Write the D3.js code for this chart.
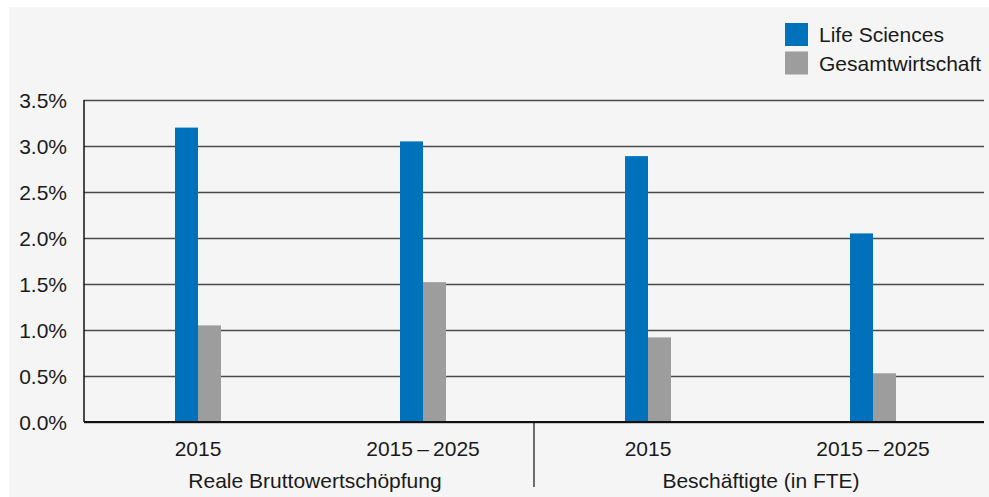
<!DOCTYPE html>
<html>
<head>
<meta charset="utf-8">
<script src="https://cdn.jsdelivr.net/npm/d3@7"></script>
<style>
  html, body { margin: 0; padding: 0; background: #ffffff; }
  svg { display: block; }
  text { font-family: "Liberation Sans", Arial, Helvetica, sans-serif; fill: #1a1a1a; }
</style>
</head>
<body>
<svg id="chart" width="989" height="497"></svg>
<script>
const categories = ["2015", "2015\u2009\u2013\u20092025", "2015", "2015\u2009\u2013\u20092025"];
const groups = ["Reale Bruttowertschöpfung", "Beschäftigte (in FTE)"];
const seriesNames = ["Life Sciences", "Gesamtwirtschaft"];
const lifeSciences = [3.2, 3.05, 2.89, 2.05];
const gesamtwirtschaft = [1.05, 1.52, 0.92, 0.53];
const yTicks = [0, 0.5, 1.0, 1.5, 2.0, 2.5, 3.0, 3.5];
const colors = ["#0072bc", "#9c9d9c"];

const svg = d3.select("#chart");
const W = 989, H = 497;
const FS = 21;
const margin = {left: 84, right: 5, top: 100, bottom: 75};
const x0 = margin.left, x1 = W - margin.right;
const yTop = margin.top, yBot = H - margin.bottom;

// panel background
svg.append("rect").attr("x", 9).attr("y", 7).attr("width", W - 9).attr("height", H - 7).attr("fill", "#f5f5f5");

const x = d3.scaleBand().domain(d3.range(categories.length)).range([x0 + 1.5, x1 + 1.5]).paddingInner(0).paddingOuter(0);
const barW = 23;
const xSub = d3.scaleBand().domain(seriesNames).range([0, barW * 2]);
const y = d3.scaleLinear().domain([0, 3.5]).range([yBot, yTop]);

// gridlines + y labels
const yAxis = d3.axisLeft(y).tickValues(yTicks).tickFormat(d => d3.format(".1f")(d) + "%").tickSize(-(x1 - x0)).tickPadding(17);
const gy = svg.append("g").attr("transform", `translate(${x0},0)`).call(yAxis);
gy.select(".domain").remove();
gy.selectAll(".tick line").attr("stroke", "#4a4a4a").attr("stroke-width", 1.4);
gy.selectAll(".tick text").attr("font-size", FS).attr("fill", "#1a1a1a").attr("dy", "0.36em")
  .attr("font-family", "'Liberation Sans', Arial, sans-serif");

// bars
const data = categories.map((c, i) => ({i, vals: [lifeSciences[i], gesamtwirtschaft[i]]}));
const gBars = svg.append("g");
data.forEach(d => {
  const cx = x(d.i) + x.bandwidth() / 2 - barW;
  d.vals.forEach((v, k) => {
    gBars.append("rect")
      .attr("x", cx + xSub(seriesNames[k]))
      .attr("y", y(v))
      .attr("width", xSub.bandwidth())
      .attr("height", y(0) - y(v))
      .attr("fill", colors[k]);
  });
});

// axes lines
svg.append("line").attr("x1", x0).attr("x2", x0).attr("y1", yTop).attr("y2", yBot).attr("stroke", "#111").attr("stroke-width", 1.5);
svg.append("line").attr("x1", x0).attr("x2", x1).attr("y1", y(0)).attr("y2", y(0)).attr("stroke", "#111").attr("stroke-width", 2);

// x category labels
const xAxis = d3.axisBottom(x).tickFormat(i => categories[i]).tickSize(0).tickPadding(19);
const gx = svg.append("g").attr("transform", `translate(0,${yBot})`).call(xAxis);
gx.select(".domain").remove();
gx.selectAll(".tick text").attr("font-size", FS).attr("fill", "#1a1a1a")
  .attr("font-family", "'Liberation Sans', Arial, sans-serif");

// group labels and separator
const groupScale = d3.scaleBand().domain(groups).range([x0, x1]);
groups.forEach((g, k) => {
  svg.append("text").attr("x", groupScale(g) + groupScale.bandwidth() / 2 + (k === 0 ? 6 : 2)).attr("y", 488)
    .attr("text-anchor", "middle").attr("font-size", FS).text(g);
});
svg.append("line").attr("x1", groupScale(groups[1])).attr("x2", groupScale(groups[1]))
  .attr("y1", yBot).attr("y2", 487).attr("stroke", "#111").attr("stroke-width", 1.2);

// legend
const legend = svg.append("g").attr("transform", "translate(785,23)");
seriesNames.forEach((s, k) => {
  const g = legend.append("g").attr("transform", `translate(0,${k * 28.5})`);
  g.append("rect").attr("width", 23).attr("height", 23).attr("fill", colors[k]);
  g.append("text").attr("x", 34).attr("y", 19).attr("font-size", FS).text(s);
});
</script>
</body>
</html>
